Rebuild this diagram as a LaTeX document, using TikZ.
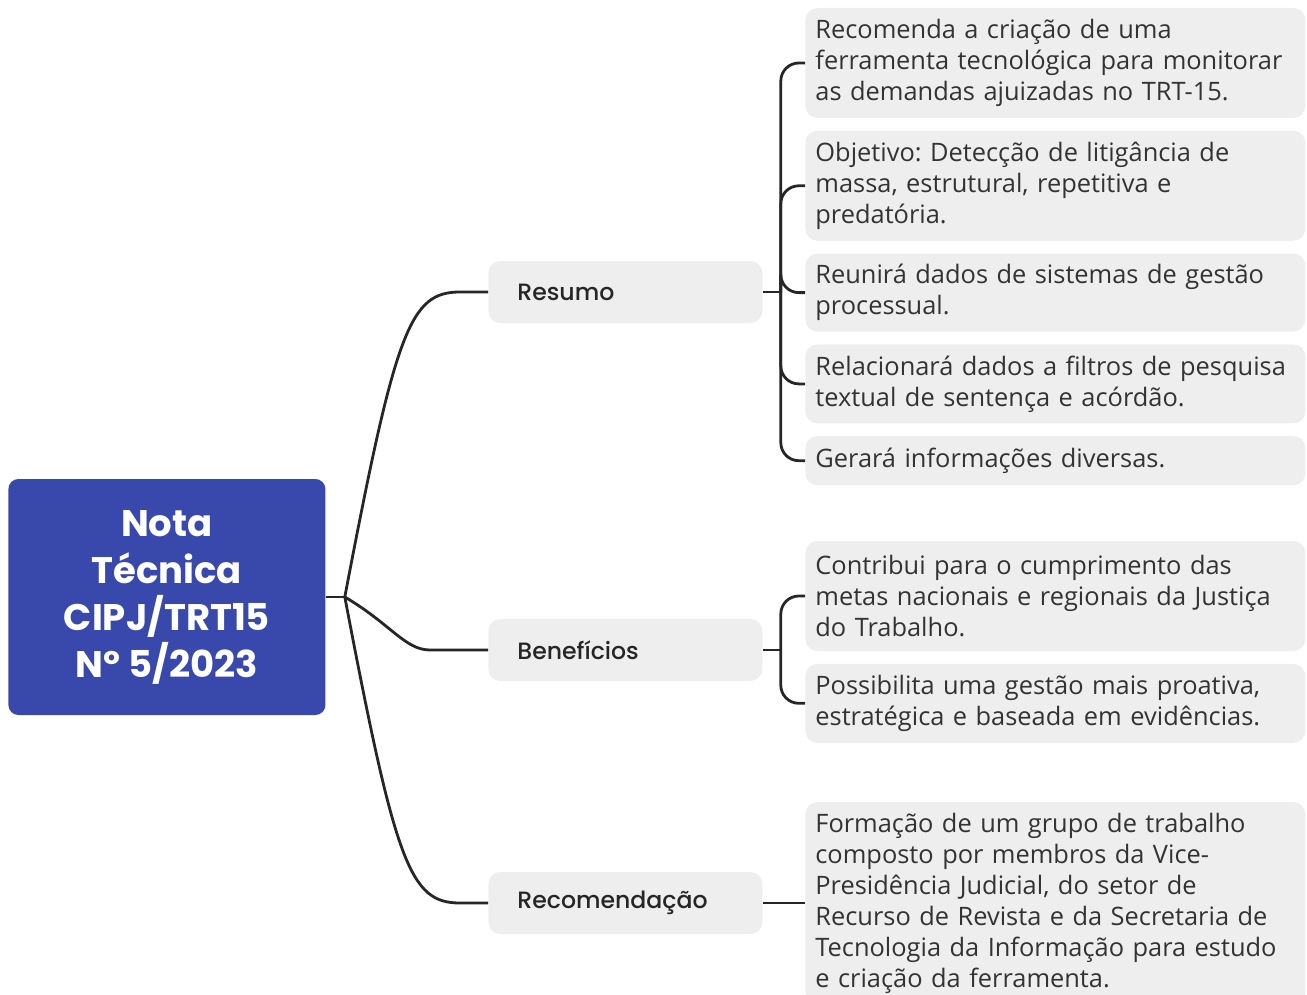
\documentclass[tikz,border=0pt]{standalone}
\usepackage{fontspec}
\setmainfont{Open Sans}
\newfontfamily\rootfont{Poppins}
\newfontfamily\topicfont{Poppins Medium}
\frenchspacing
\usepackage{tikz}
\usetikzlibrary{positioning}
\definecolor{rootblue}{HTML}{3949AB}
\definecolor{boxgray}{HTML}{EEEEEE}
\definecolor{inkgray}{HTML}{333333}

\begin{document}
\begin{tikzpicture}[x=0.5pt,y=-0.5pt,
		link/.style={draw=black!85,line width=1.4pt},
		root/.style={fill=rootblue,rounded corners=5pt,text=white,align=center,minimum width=158.5pt,minimum height=118pt,font=\rootfont\bfseries\fontsize{18.5}{23.5}\selectfont},
		topic/.style={fill=boxgray,rounded corners=6pt,text width=108pt,inner xsep=14.5pt,minimum height=31pt,align=left,text=black!85,font=\topicfont\fontsize{11.8}{14}\selectfont},
		leaf/.style={fill=boxgray,rounded corners=6pt,text width=240pt,inner xsep=5pt,align=left,text=inkgray,font=\fontsize{12.7}{15.5}\selectfont}]
		\useasboundingbox (0,0) rectangle (1307,995);
		\node(root) at (8,597) [root,anchor=west] {Nota\\Técnica\\CIPJ/TRT15\\Nº 5/2023};
		\node(resumo) at (488,292) [topic,anchor=west] {Resumo};
		\node(benef) at (488,650) [topic,anchor=west] {Benefícios};
		\node(recom) at (488,903) [topic,anchor=west] {Recomendação};
		\node(r1) at (805,63) [leaf,anchor=west,minimum height=55pt] {Recomenda a criação de uma\\ferramenta tecnológica para monitorar\\as demandas ajuizadas no TRT-15.};
		\node(r2) [below=6pt of r1,leaf,minimum height=55pt] {Objetivo: Detecção de litigância de\\massa, estrutural, repetitiva e\\predatória.};
		\node(r3) [below=6pt of r2,leaf,minimum height=39pt] {Reunirá dados de sistemas de gestão\\processual.};
		\node(r4) [below=6pt of r3,leaf,minimum height=39.5pt] {Relacionará dados a filtros de pesquisa\\textual de sentença e acórdão.};
		\node(r5) [below=6pt of r4,leaf,minimum height=24.5pt] {Gerará informações diversas.};
		\node(b1) at (805,596) [leaf,anchor=west,minimum height=55pt] {Contribui para o cumprimento das\\metas nacionais e regionais da Justiça\\do Trabalho.};
		\node(b2) [below=6pt of b1,leaf,minimum height=39.5pt] {Possibilita uma gestão mais proativa,\\estratégica e baseada em evidências.};
		\node(c1) at (805,903) [leaf,anchor=west,minimum height=101pt] {Formação de um grupo de trabalho\\composto por membros da Vice-\\Presidência Judicial, do setor de\\Recurso de Revista e da Secretaria de\\Tecnologia da Informação para estudo\\e criação da ferramenta.};
		\coordinate[right=9.5pt of root] (hub);
		\coordinate[right=9pt of resumo] (rj);
		\coordinate[right=9pt of benef] (bj);
		\draw[link] (root) -- (hub);
		\draw[link] (hub) .. controls +(51,-268) and +(-50,0) .. ([xshift=-14pt]resumo.west) -- (resumo.west);
		\draw[link] (hub) .. controls +(46,27) and +(-25,0) .. ([xshift=-29pt]benef.west) -- (benef.west);
		\draw[link] (hub) .. controls +(51,268) and +(-50,0) .. ([xshift=-14pt]recom.west) -- (recom.west);
		\draw[link] (resumo) -- (rj);
		\draw[link] (benef) -- (bj);
		\draw[link] (recom) -- (c1);
		\foreach \leaf in {r1,r2,r3,r4,r5}
			\draw[link,rounded corners=9pt] (rj) |- (\leaf.west);
		\foreach \leaf in {b1,b2}
			\draw[link,rounded corners=9pt] (bj) |- (\leaf.west);
	\end{tikzpicture}
\end{document}
